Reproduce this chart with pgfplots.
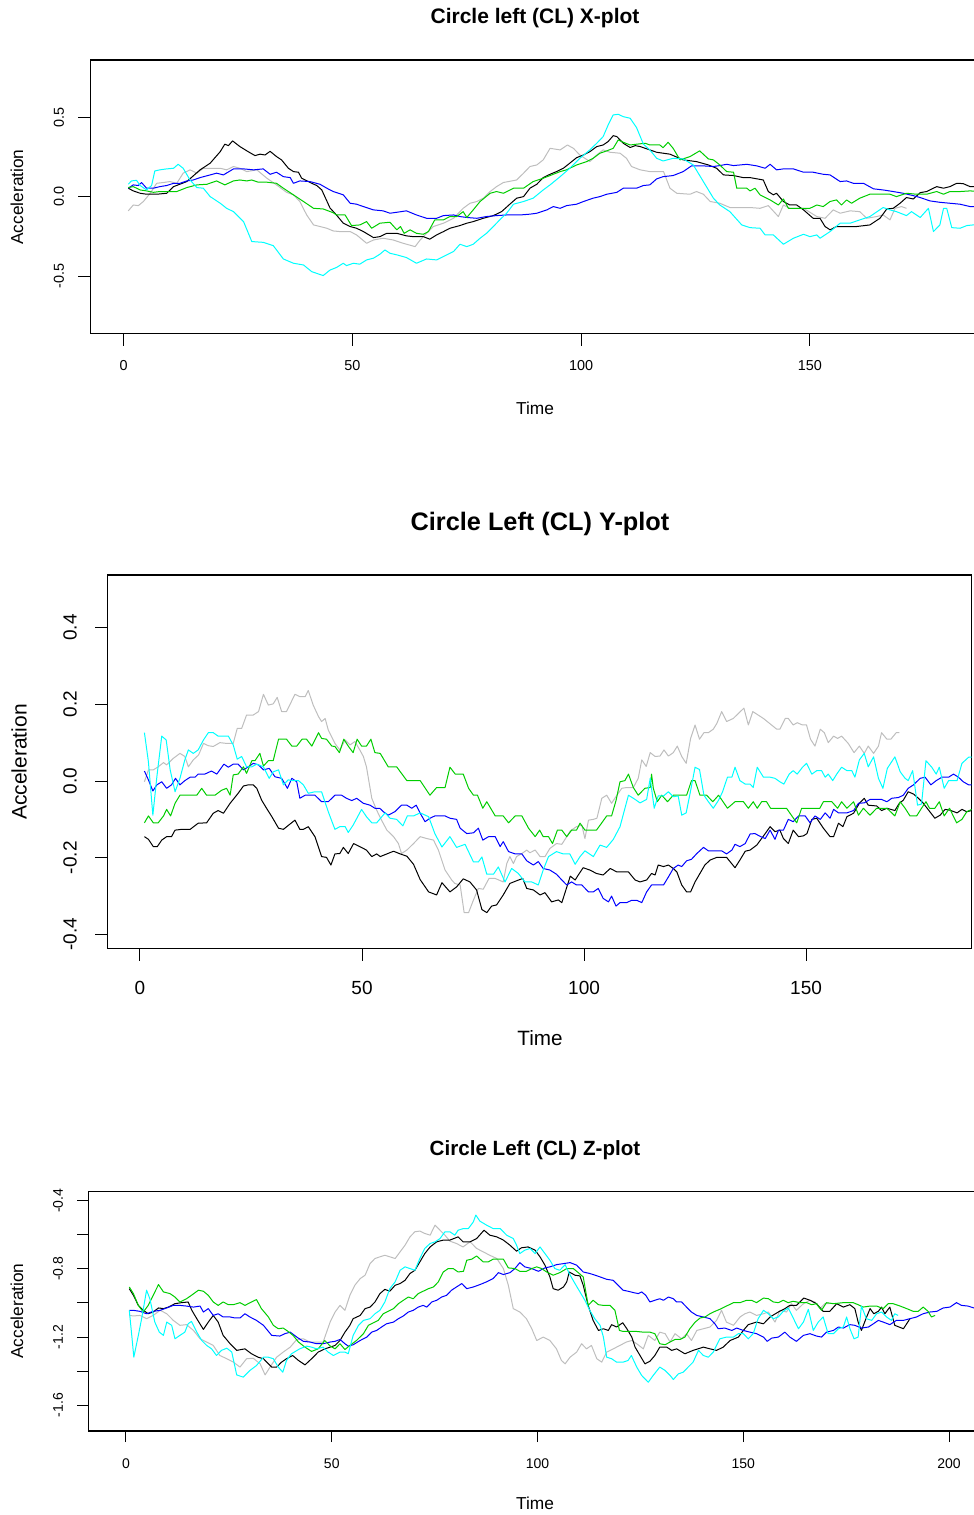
\documentclass[border=0pt]{standalone}
\usepackage{fontspec}
\setmainfont{Liberation Sans}
\usepackage{pgfplots}
\pgfplotsset{compat=1.18}
\definecolor{rgray}{HTML}{BEBEBE}
\definecolor{rgreen}{HTML}{00CD00}
\definecolor{rblue}{HTML}{0000FF}
\definecolor{rcyan}{HTML}{00FFFF}
\pgfplotsset{
  rplot/.style={
    scale only axis,
    axis line style={line width=0.6pt},
    tick align=outside,
    xtick pos=left, ytick pos=left,
    tick style={black, line width=0.5pt},
    yticklabel style={rotate=90, anchor=south},
    every axis plot/.append style={line width=0.5pt, line join=round, mark=none},
  }
}
\begin{document}
\begin{tikzpicture}
\path[use as bounding box] (0,0) rectangle (487pt,757.5pt);
\clip (0,0) rectangle (487pt,757.5pt);

% ---------------- Top: X-plot ----------------
\begin{axis}[rplot,
  at={(45.15pt,590.65pt)}, anchor=south west,
  width=449.85pt, height=136.85pt,
  xmin=-7.3, xmax=189.36, ymin=-0.864, ymax=0.865,
  major tick length=6pt,
  xtick={0,50,100,150}, xticklabels={0,50,100,150},
  ytick={-0.5,0,0.5}, yticklabels={-0.5,0.0,0.5},
  ticklabel style={font=\fontsize{7.2}{8}\selectfont, inner sep=0pt},
  xticklabel shift=7pt, yticklabel shift=7pt,
]
\addplot[rgray] coordinates {(1.0,-0.088)(2.1,-0.051)(3.2,-0.055)(4.3,-0.029)(5.8,0.023)(7.2,0.086)(8.7,0.091)(10.1,0.097)(11.6,0.086)(13.0,0.150)(14.5,0.171)(16.0,0.150)(17.4,0.181)(18.9,0.181)(21.1,0.181)(22.5,0.171)(24.0,0.192)(25.4,0.181)(26.9,0.160)(29.1,0.171)(31.3,0.118)(33.4,0.076)(35.6,0.029)(37.1,0.013)(38.5,-0.029)(40.0,-0.114)(41.5,-0.177)(42.9,-0.187)(44.4,-0.198)(45.8,-0.215)(47.3,-0.219)(49.5,-0.219)(50.9,-0.240)(53.1,-0.293)(54.6,-0.272)(56.7,-0.261)(58.9,-0.272)(61.1,-0.293)(63.7,-0.314)(64.8,-0.272)(66.2,-0.230)(67.7,-0.187)(69.9,-0.166)(72.1,-0.135)(74.2,-0.072)(75.7,-0.040)(77.2,-0.029)(78.6,-0.008)(80.1,0.034)(81.5,0.065)(83.0,0.091)(85.9,0.107)(87.4,0.150)(88.8,0.192)(90.3,0.202)(91.7,0.234)(93.2,0.307)(95.4,0.297)(97.0,0.328)(98.3,0.307)(99.7,0.265)(101.9,0.223)(103.4,0.265)(104.8,0.297)(106.3,0.282)(108.5,0.276)(109.9,0.244)(111.0,0.192)(112.9,0.171)(115.0,0.160)(116.5,0.160)(118.0,0.160)(119.4,0.055)(120.9,0.023)(123.8,0.017)(125.2,0.034)(126.7,0.017)(128.2,-0.029)(130.3,-0.040)(132.5,-0.067)(134.7,-0.067)(136.9,-0.067)(139.1,-0.072)(140.9,-0.055)(143.1,-0.124)(144.2,-0.051)(145.6,-0.072)(148.6,-0.072)(151.5,-0.124)(153.3,-0.135)(155.1,-0.082)(156.6,-0.103)(158.8,-0.088)(160.9,-0.093)(162.4,-0.135)(164.6,-0.124)(166.0,-0.114)(167.5,-0.145)(168.6,-0.072)(170.0,-0.061)(171.1,-0.072)};
\addplot[black] coordinates {(1.0,0.055)(2.1,0.038)(3.6,0.023)(5.0,0.017)(7.2,0.017)(9.4,0.023)(10.9,0.065)(13.8,0.097)(16.7,0.171)(18.9,0.213)(21.1,0.286)(22.1,0.333)(22.9,0.324)(23.8,0.354)(25.4,0.318)(27.2,0.286)(28.7,0.261)(29.8,0.270)(30.9,0.265)(32.0,0.288)(33.4,0.255)(34.5,0.234)(36.0,0.181)(37.1,0.160)(38.2,0.156)(38.9,0.118)(41.1,0.086)(42.2,0.072)(43.3,0.044)(45.1,-0.070)(46.5,-0.114)(48.0,-0.166)(49.5,-0.187)(50.9,-0.198)(52.4,-0.219)(54.6,-0.257)(56.0,-0.251)(57.5,-0.230)(59.7,-0.230)(61.8,-0.246)(63.3,-0.251)(65.5,-0.251)(66.9,-0.267)(68.4,-0.240)(69.9,-0.219)(71.3,-0.198)(73.5,-0.181)(75.0,-0.166)(76.4,-0.156)(78.6,-0.135)(80.8,-0.118)(82.6,-0.093)(84.4,-0.046)(85.9,-0.008)(87.4,0.002)(88.8,0.055)(90.3,0.080)(91.7,0.122)(93.2,0.143)(94.6,0.160)(96.1,0.181)(97.5,0.213)(99.0,0.248)(100.5,0.265)(101.9,0.286)(103.4,0.318)(104.8,0.328)(105.9,0.350)(107.0,0.387)(107.8,0.381)(109.2,0.339)(110.7,0.312)(111.8,0.324)(112.9,0.318)(115.0,0.297)(116.5,0.282)(119.4,0.270)(122.3,0.234)(125.2,0.223)(127.8,0.202)(129.6,0.181)(131.1,0.139)(133.3,0.135)(135.4,0.122)(136.9,0.122)(139.8,0.107)(140.9,0.034)(142.0,0.013)(142.7,0.023)(144.2,-0.029)(145.6,-0.051)(147.1,-0.051)(148.6,-0.082)(150.7,-0.135)(152.2,-0.135)(153.3,-0.187)(154.4,-0.208)(155.8,-0.187)(158.8,-0.187)(160.2,-0.187)(163.1,-0.177)(165.3,-0.135)(166.8,-0.076)(168.2,-0.072)(169.7,-0.040)(171.1,-0.004)(172.6,-0.013)(174.1,0.027)(175.5,0.034)(177.7,0.065)(179.2,0.055)(180.6,0.065)(182.1,0.086)(183.5,0.084)(185.0,0.065)(187.0,0.065)};
\addplot[rblue] coordinates {(1.0,0.055)(2.1,0.076)(3.2,0.072)(3.9,0.091)(5.0,0.055)(6.5,0.055)(7.9,0.065)(9.4,0.072)(10.9,0.086)(12.3,0.086)(13.8,0.101)(15.2,0.107)(16.7,0.122)(18.9,0.139)(20.3,0.150)(21.8,0.139)(24.0,0.177)(26.2,0.177)(28.4,0.171)(30.5,0.177)(32.0,0.143)(33.4,0.156)(34.9,0.128)(36.4,0.122)(37.1,0.086)(38.5,0.101)(40.7,0.097)(42.9,0.080)(44.4,0.055)(45.8,0.034)(47.3,0.020)(48.0,0.013)(49.5,-0.040)(50.9,-0.046)(52.4,-0.061)(54.6,-0.082)(56.7,-0.088)(58.2,-0.103)(59.7,-0.097)(61.8,-0.088)(64.0,-0.114)(66.2,-0.135)(68.4,-0.135)(69.9,-0.118)(72.1,-0.114)(73.5,-0.124)(75.0,-0.130)(77.2,-0.135)(79.3,-0.124)(81.5,-0.118)(83.7,-0.114)(86.6,-0.114)(88.8,-0.109)(90.3,-0.103)(92.5,-0.082)(93.9,-0.061)(95.4,-0.072)(96.8,-0.055)(99.0,-0.046)(100.5,-0.029)(102.6,-0.008)(104.1,0.002)(105.6,0.017)(107.8,0.029)(109.2,0.055)(112.1,0.055)(113.6,0.072)(115.0,0.076)(116.5,0.114)(117.9,0.128)(120.1,0.135)(122.3,0.160)(124.1,0.196)(126.7,0.196)(128.9,0.192)(130.3,0.198)(131.8,0.206)(133.3,0.198)(136.2,0.206)(138.4,0.196)(140.2,0.181)(141.3,0.206)(142.7,0.171)(144.2,0.177)(146.4,0.177)(148.6,0.156)(150.7,0.156)(152.9,0.143)(154.4,0.139)(156.6,0.097)(158.0,0.101)(159.5,0.086)(161.7,0.086)(163.9,0.051)(166.0,0.044)(168.2,0.034)(170.4,0.023)(172.6,0.008)(174.1,-0.004)(176.2,-0.025)(178.4,-0.034)(180.6,-0.040)(182.8,-0.046)(185.0,-0.061)(187.0,-0.061)};
\addplot[rgreen] coordinates {(1.0,0.059)(2.1,0.065)(3.6,0.044)(5.0,0.038)(6.5,0.029)(7.9,0.034)(9.4,0.034)(11.6,0.034)(13.8,0.059)(16.0,0.076)(18.2,0.080)(20.3,0.101)(22.1,0.076)(24.0,0.101)(25.4,0.107)(26.9,0.101)(28.0,0.107)(29.4,0.093)(31.3,0.093)(33.4,0.086)(34.9,0.055)(37.1,0.013)(39.3,-0.029)(41.5,-0.072)(43.6,-0.076)(45.8,-0.100)(46.5,-0.114)(48.4,-0.114)(49.8,-0.181)(51.6,-0.177)(53.1,-0.156)(54.2,-0.198)(56.0,-0.166)(58.2,-0.160)(59.7,-0.208)(60.5,-0.187)(61.3,-0.230)(62.6,-0.208)(64.0,-0.230)(65.5,-0.236)(66.6,-0.219)(68.0,-0.145)(69.9,-0.145)(71.3,-0.124)(72.8,-0.124)(74.2,-0.093)(75.0,-0.130)(76.4,-0.082)(77.9,-0.029)(80.1,0.023)(81.5,0.034)(83.0,0.023)(85.2,0.055)(87.4,0.055)(89.5,0.097)(91.7,0.118)(93.2,0.135)(95.4,0.160)(96.8,0.171)(99.0,0.202)(101.2,0.223)(102.6,0.244)(104.1,0.276)(105.6,0.291)(107.0,0.307)(108.1,0.360)(109.2,0.345)(110.7,0.328)(112.1,0.333)(114.0,0.339)(115.0,0.328)(117.2,0.328)(117.9,0.311)(119.0,0.345)(120.1,0.307)(121.6,0.234)(123.8,0.255)(125.9,0.291)(127.8,0.240)(128.9,0.234)(130.3,0.202)(131.8,0.160)(133.3,0.156)(134.0,0.055)(136.2,0.055)(136.9,0.038)(138.0,0.055)(139.1,0.013)(141.3,-0.019)(143.1,-0.051)(144.2,-0.013)(145.3,-0.072)(147.8,-0.072)(150.0,-0.072)(151.5,-0.051)(152.9,-0.061)(154.4,-0.029)(155.8,-0.019)(156.9,-0.051)(158.0,-0.019)(159.1,-0.040)(160.9,-0.008)(163.1,0.017)(165.3,0.017)(167.5,0.017)(168.9,0.002)(171.1,0.023)(173.3,0.017)(175.5,0.017)(177.7,0.034)(179.2,0.017)(180.6,0.034)(182.8,0.034)(185.0,0.038)(187.0,0.034)};
\addplot[rcyan] coordinates {(1.0,0.080)(1.7,0.101)(2.8,0.105)(3.6,0.072)(5.0,0.044)(6.1,0.072)(6.8,0.164)(7.9,0.171)(9.4,0.177)(10.9,0.181)(11.9,0.206)(13.0,0.181)(14.5,0.107)(16.0,0.059)(17.4,0.055)(18.9,0.002)(21.1,-0.040)(22.5,-0.072)(24.0,-0.093)(26.2,-0.156)(28.0,-0.282)(30.5,-0.287)(32.7,-0.308)(34.9,-0.392)(37.1,-0.419)(39.3,-0.430)(41.1,-0.472)(43.6,-0.497)(45.1,-0.462)(46.5,-0.446)(48.0,-0.419)(48.7,-0.434)(50.2,-0.419)(51.6,-0.425)(53.1,-0.398)(54.6,-0.387)(56.0,-0.362)(57.1,-0.335)(58.2,-0.356)(59.7,-0.366)(61.8,-0.383)(64.0,-0.419)(66.2,-0.392)(68.4,-0.398)(70.6,-0.366)(72.1,-0.345)(73.5,-0.299)(75.0,-0.314)(76.4,-0.299)(77.9,-0.261)(79.3,-0.230)(80.8,-0.187)(82.2,-0.145)(83.7,-0.103)(85.2,-0.046)(87.4,-0.029)(89.5,-0.008)(91.7,0.044)(93.2,0.076)(95.4,0.128)(97.5,0.181)(99.7,0.244)(101.9,0.297)(103.4,0.339)(104.8,0.381)(105.9,0.455)(107.0,0.518)(108.1,0.522)(109.2,0.507)(110.7,0.497)(112.1,0.438)(113.6,0.333)(115.0,0.297)(116.5,0.244)(117.9,0.227)(120.1,0.244)(122.3,0.240)(124.5,0.202)(126.7,0.097)(128.9,-0.008)(130.3,-0.051)(132.5,-0.093)(135.1,-0.177)(136.9,-0.194)(139.1,-0.198)(140.2,-0.240)(142.0,-0.240)(144.2,-0.299)(146.4,-0.261)(148.6,-0.236)(150.0,-0.251)(151.5,-0.240)(152.2,-0.261)(154.4,-0.219)(156.6,-0.166)(158.8,-0.166)(160.9,-0.145)(163.1,-0.124)(166.0,-0.067)(167.5,-0.082)(168.9,-0.093)(171.1,-0.118)(172.2,-0.093)(174.1,-0.130)(175.9,-0.072)(177.0,-0.219)(178.4,-0.177)(179.2,-0.072)(179.9,-0.072)(181.0,-0.194)(182.8,-0.198)(184.3,-0.181)(187.0,-0.173)};
\end{axis}
\node[font=\bfseries\fontsize{10.5}{12}\selectfont] at (267.5pt,748.65pt) {Circle left (CL) X-plot};
\node[font=\fontsize{8.65}{10}\selectfont] at (267.5pt,553.5pt) {Time};
\node[font=\fontsize{8.65}{10}\selectfont, rotate=90] at (8.5pt,659pt) {Acceleration};

% ---------------- Middle: Y-plot ----------------
\begin{axis}[rplot,
  at={(53.85pt,283.35pt)}, anchor=south west,
  width=432pt, height=186.65pt,
  xmin=-7.27, xmax=187.3, ymin=-0.436, ymax=0.537,
  major tick length=6.3pt,
  xtick={0,50,100,150}, xticklabels={0,50,100,150},
  ytick={-0.4,-0.2,0,0.2,0.4}, yticklabels={-0.4,-0.2,0.0,0.2,0.4},
  ticklabel style={font=\fontsize{9.5}{11}\selectfont, inner sep=0pt},
  xticklabel shift=10.2pt, yticklabel shift=9pt,
]
\addplot[rgray] coordinates {(1.0,-0.002)(1.9,0.029)(3.0,0.029)(4.1,0.037)(5.3,0.048)(6.0,0.042)(7.5,0.059)(9.0,0.072)(10.1,0.064)(10.9,0.037)(12.0,0.055)(13.2,0.068)(14.3,0.098)(15.4,0.092)(16.5,0.090)(18.0,0.100)(19.5,0.098)(21.0,0.098)(21.9,0.137)(22.9,0.137)(24.0,0.172)(25.5,0.172)(26.7,0.181)(27.8,0.226)(28.9,0.198)(30.0,0.201)(30.9,0.218)(31.9,0.181)(33.0,0.181)(34.9,0.226)(36.0,0.220)(37.2,0.220)(37.9,0.236)(39.0,0.198)(40.2,0.168)(40.9,0.155)(41.7,0.163)(42.4,0.133)(43.9,0.098)(45.0,0.081)(46.2,0.107)(47.3,0.094)(48.4,0.103)(49.5,0.081)(50.3,0.064)(51.0,0.037)(52.2,-0.045)(53.3,-0.076)(54.4,-0.102)(55.6,-0.128)(57.1,-0.145)(58.2,-0.163)(58.9,-0.189)(60.1,-0.180)(61.6,-0.163)(63.1,-0.145)(64.6,-0.150)(66.1,-0.154)(67.2,-0.180)(68.7,-0.232)(70.2,-0.258)(70.9,-0.267)(72.1,-0.271)(73.0,-0.343)(74.0,-0.343)(75.1,-0.310)(76.2,-0.280)(77.3,-0.282)(78.6,-0.254)(80.0,-0.254)(81.8,-0.263)(82.6,-0.215)(83.3,-0.197)(84.1,-0.215)(84.8,-0.197)(86.0,-0.189)(87.1,-0.180)(87.8,-0.187)(89.0,-0.180)(90.1,-0.197)(91.2,-0.197)(92.3,-0.176)(93.8,-0.163)(95.0,-0.165)(96.1,-0.145)(96.9,-0.130)(98.3,-0.119)(99.5,-0.115)(100.2,-0.150)(101.0,-0.102)(102.1,-0.100)(102.9,-0.097)(104.0,-0.045)(105.1,-0.037)(106.2,-0.058)(107.4,-0.037)(108.5,-0.019)(109.6,-0.017)(111.1,-0.017)(112.2,0.007)(113.0,0.055)(114.0,0.038)(114.9,0.074)(116.0,0.064)(117.1,0.065)(118.0,0.081)(119.0,0.065)(120.1,0.074)(121.0,0.091)(122.0,0.064)(123.0,0.046)(124.0,0.111)(125.0,0.146)(126.0,0.109)(127.0,0.126)(128.0,0.126)(129.1,0.135)(129.9,0.150)(131.0,0.181)(132.1,0.155)(133.6,0.163)(136.0,0.190)(137.0,0.146)(138.0,0.181)(140.4,0.163)(143.4,0.135)(144.1,0.135)(145.3,0.163)(146.0,0.163)(147.1,0.146)(148.0,0.152)(149.2,0.146)(150.1,0.146)(151.0,0.109)(152.0,0.091)(153.2,0.135)(154.1,0.126)(155.0,0.100)(156.2,0.117)(157.1,0.111)(158.0,0.117)(159.5,0.098)(160.8,0.074)(162.0,0.091)(163.1,0.072)(164.0,0.091)(165.2,0.072)(166.3,0.091)(167.0,0.126)(168.2,0.109)(169.1,0.109)(170.3,0.126)(171.0,0.126)};
\addplot[black] coordinates {(1.0,-0.145)(1.9,-0.152)(3.0,-0.171)(3.9,-0.171)(4.9,-0.154)(6.0,-0.145)(7.1,-0.145)(7.9,-0.128)(9.4,-0.126)(11.3,-0.126)(13.1,-0.110)(15.0,-0.109)(16.5,-0.084)(17.6,-0.077)(18.8,-0.084)(20.3,-0.058)(21.0,-0.048)(22.1,-0.032)(23.3,-0.013)(24.4,-0.010)(25.5,-0.010)(26.3,-0.019)(27.4,-0.050)(28.5,-0.071)(29.7,-0.093)(31.2,-0.123)(32.3,-0.126)(33.8,-0.112)(34.9,-0.102)(36.0,-0.126)(36.8,-0.126)(37.9,-0.119)(39.4,-0.145)(40.9,-0.197)(42.0,-0.199)(43.0,-0.219)(43.9,-0.190)(45.0,-0.189)(45.8,-0.173)(46.9,-0.189)(48.1,-0.163)(49.5,-0.171)(51.0,-0.180)(52.2,-0.197)(53.3,-0.190)(54.1,-0.197)(55.6,-0.190)(57.1,-0.183)(58.6,-0.190)(60.1,-0.196)(61.6,-0.217)(63.1,-0.257)(65.0,-0.289)(66.8,-0.297)(68.0,-0.265)(69.8,-0.289)(71.3,-0.276)(72.8,-0.255)(74.3,-0.263)(75.8,-0.284)(77.0,-0.335)(78.1,-0.343)(79.2,-0.326)(80.3,-0.323)(81.8,-0.297)(83.3,-0.267)(84.8,-0.260)(86.2,-0.254)(87.1,-0.280)(88.6,-0.284)(90.1,-0.297)(91.2,-0.291)(92.7,-0.315)(94.2,-0.310)(95.0,-0.317)(96.9,-0.248)(98.0,-0.258)(98.7,-0.245)(99.8,-0.226)(101.3,-0.232)(102.8,-0.241)(104.3,-0.245)(105.9,-0.228)(107.4,-0.237)(110.0,-0.237)(111.5,-0.258)(112.6,-0.263)(114.1,-0.258)(115.2,-0.241)(116.0,-0.245)(116.7,-0.219)(117.9,-0.223)(119.0,-0.219)(120.1,-0.228)(120.9,-0.237)(122.0,-0.271)(123.1,-0.289)(124.0,-0.289)(125.0,-0.263)(126.1,-0.241)(127.2,-0.219)(128.4,-0.206)(129.9,-0.199)(132.1,-0.199)(134.0,-0.226)(135.1,-0.206)(136.3,-0.183)(137.4,-0.180)(138.9,-0.167)(140.8,-0.137)(141.9,-0.119)(143.0,-0.132)(144.1,-0.128)(144.9,-0.150)(146.0,-0.163)(147.1,-0.128)(148.3,-0.145)(149.4,-0.143)(150.2,-0.137)(151.3,-0.100)(152.4,-0.097)(153.9,-0.123)(155.4,-0.145)(156.2,-0.145)(157.3,-0.110)(158.3,-0.119)(159.2,-0.093)(160.7,-0.084)(162.0,-0.058)(163.1,-0.045)(164.0,-0.063)(165.9,-0.065)(167.0,-0.077)(168.2,-0.071)(170.0,-0.077)(171.0,-0.058)(171.9,-0.050)(173.0,-0.028)(174.2,-0.034)(175.3,-0.045)(176.4,-0.058)(177.6,-0.076)(179.0,-0.097)(180.2,-0.089)(181.3,-0.074)(182.4,-0.076)(184.0,-0.083)(185.1,-0.074)(186.2,-0.080)(187.3,-0.077)};
\addplot[rblue] coordinates {(1.0,0.026)(1.9,0.003)(2.9,-0.026)(3.8,-0.010)(4.9,-0.002)(6.0,-0.019)(7.1,-0.010)(8.0,0.007)(9.0,-0.010)(10.1,0.001)(11.3,0.010)(12.4,0.010)(13.1,0.018)(14.6,0.018)(16.1,0.026)(17.3,0.018)(18.9,0.044)(19.9,0.036)(21.0,0.044)(22.1,0.044)(23.3,0.029)(24.4,0.037)(25.5,0.046)(26.7,0.042)(27.8,0.029)(29.1,0.033)(30.4,0.011)(31.9,0.007)(33.2,-0.019)(34.2,0.007)(35.3,-0.002)(36.0,-0.045)(37.2,-0.037)(39.4,-0.037)(40.9,-0.054)(42.4,-0.054)(43.9,-0.037)(45.4,-0.037)(46.5,-0.045)(47.7,-0.051)(48.8,-0.045)(50.3,-0.058)(51.8,-0.063)(52.9,-0.071)(54.0,-0.071)(54.8,-0.080)(55.9,-0.089)(57.4,-0.080)(58.9,-0.063)(60.1,-0.063)(61.2,-0.071)(62.2,-0.063)(63.1,-0.084)(64.2,-0.106)(65.3,-0.097)(66.4,-0.091)(68.7,-0.091)(69.8,-0.097)(71.3,-0.100)(72.1,-0.123)(73.6,-0.137)(75.1,-0.135)(76.2,-0.123)(77.2,-0.154)(78.5,-0.145)(80.0,-0.145)(81.1,-0.171)(81.8,-0.158)(83.0,-0.184)(84.5,-0.190)(86.0,-0.190)(87.1,-0.208)(88.6,-0.219)(89.7,-0.210)(90.8,-0.228)(92.3,-0.232)(93.8,-0.243)(95.0,-0.258)(96.1,-0.271)(97.2,-0.263)(98.3,-0.271)(99.5,-0.271)(101.0,-0.289)(102.1,-0.289)(103.2,-0.280)(104.3,-0.306)(105.5,-0.315)(106.2,-0.300)(107.2,-0.326)(108.1,-0.317)(109.6,-0.317)(110.7,-0.311)(111.9,-0.311)(113.0,-0.317)(114.1,-0.289)(115.2,-0.271)(116.4,-0.271)(117.9,-0.271)(119.0,-0.250)(120.1,-0.228)(121.2,-0.219)(122.0,-0.223)(123.1,-0.208)(124.2,-0.204)(125.4,-0.189)(126.9,-0.173)(128.0,-0.182)(129.9,-0.182)(131.0,-0.182)(132.1,-0.190)(133.3,-0.180)(134.0,-0.165)(135.1,-0.171)(136.3,-0.163)(137.4,-0.138)(138.5,-0.137)(139.6,-0.144)(140.8,-0.150)(141.9,-0.128)(143.0,-0.152)(143.8,-0.128)(144.9,-0.128)(146.0,-0.100)(147.1,-0.106)(148.3,-0.091)(149.8,-0.091)(150.9,-0.109)(152.0,-0.091)(153.2,-0.100)(154.3,-0.083)(155.4,-0.097)(156.2,-0.074)(157.3,-0.083)(159.2,-0.083)(160.7,-0.077)(161.8,-0.058)(163.1,-0.057)(164.4,-0.048)(165.9,-0.048)(167.0,-0.048)(168.2,-0.054)(169.3,-0.045)(170.8,-0.043)(171.9,-0.037)(173.0,-0.019)(174.2,-0.010)(175.7,0.007)(176.8,0.010)(178.1,-0.010)(179.3,0.001)(180.6,0.010)(182.1,0.010)(183.2,0.018)(184.3,0.010)(185.4,-0.002)(186.6,-0.010)(187.3,-0.010)};
\addplot[rgreen] coordinates {(1.0,-0.109)(1.9,-0.091)(3.0,-0.109)(4.1,-0.109)(5.3,-0.091)(6.0,-0.074)(6.9,-0.091)(7.9,-0.058)(9.0,-0.037)(10.9,-0.037)(12.8,-0.037)(13.9,-0.019)(15.0,-0.037)(16.9,-0.037)(18.4,-0.024)(19.5,-0.019)(20.3,-0.037)(21.0,0.016)(22.1,0.018)(23.3,0.037)(24.0,0.020)(25.2,0.053)(25.9,0.053)(27.0,0.072)(27.8,0.039)(28.9,0.053)(30.0,0.053)(31.2,0.109)(33.0,0.109)(34.2,0.091)(35.3,0.091)(36.5,0.109)(37.5,0.109)(38.7,0.091)(40.2,0.126)(40.9,0.111)(42.0,0.109)(43.2,0.091)(43.9,0.090)(44.9,0.074)(45.9,0.109)(46.9,0.091)(48.0,0.074)(48.9,0.109)(49.9,0.091)(51.0,0.091)(52.0,0.109)(52.9,0.074)(54.1,0.072)(55.9,0.037)(57.8,0.037)(60.1,0.001)(63.1,0.001)(65.3,-0.037)(66.8,-0.017)(68.7,-0.017)(69.8,0.036)(71.0,0.018)(72.8,0.018)(74.0,-0.019)(75.1,-0.037)(76.0,-0.037)(77.2,-0.071)(78.1,-0.054)(80.0,-0.091)(81.8,-0.091)(83.0,-0.109)(84.5,-0.091)(86.0,-0.091)(87.5,-0.123)(89.0,-0.145)(90.0,-0.128)(90.8,-0.145)(92.0,-0.145)(92.9,-0.163)(94.0,-0.128)(95.0,-0.128)(96.1,-0.145)(97.2,-0.128)(98.3,-0.128)(99.1,-0.110)(100.2,-0.128)(102.8,-0.128)(104.0,-0.109)(105.1,-0.091)(106.2,-0.091)(107.2,-0.051)(108.1,-0.002)(109.2,0.001)(110.0,0.018)(111.1,-0.017)(112.2,-0.037)(113.7,-0.019)(114.9,-0.017)(115.2,0.018)(115.6,-0.019)(116.5,-0.054)(117.5,-0.037)(118.8,-0.054)(120.1,-0.037)(121.6,-0.037)(123.1,-0.037)(124.2,0.001)(125.0,0.001)(126.1,-0.037)(127.6,-0.037)(129.0,-0.054)(130.3,-0.037)(132.3,-0.071)(134.0,-0.054)(135.9,-0.054)(137.0,-0.071)(138.1,-0.054)(139.0,-0.071)(140.0,-0.054)(141.1,-0.054)(142.0,-0.071)(145.6,-0.071)(146.8,-0.091)(147.9,-0.109)(149.0,-0.071)(150.9,-0.071)(153.1,-0.071)(153.9,-0.054)(155.8,-0.054)(157.1,-0.071)(158.0,-0.054)(159.2,-0.071)(160.7,-0.054)(161.8,-0.089)(162.9,-0.071)(164.4,-0.089)(165.9,-0.071)(168.2,-0.071)(170.0,-0.091)(171.2,-0.054)(172.3,-0.071)(173.4,-0.091)(174.9,-0.091)(176.0,-0.071)(177.0,-0.054)(177.8,-0.071)(179.0,-0.071)(180.0,-0.054)(181.1,-0.091)(182.3,-0.071)(183.9,-0.109)(185.1,-0.100)(186.2,-0.080)(187.3,-0.074)};
\addplot[rcyan] coordinates {(1.0,0.126)(1.9,0.050)(2.9,-0.089)(3.8,0.011)(4.9,0.117)(5.9,0.107)(6.8,0.029)(7.9,-0.028)(9.0,0.007)(10.1,0.055)(10.9,0.081)(12.0,0.072)(13.1,0.081)(14.3,0.107)(15.4,0.126)(16.5,0.126)(17.6,0.117)(18.8,0.117)(19.9,0.117)(21.0,0.094)(21.9,0.057)(22.9,0.064)(24.0,0.037)(25.2,0.037)(26.3,0.044)(27.8,0.037)(29.1,0.007)(30.0,0.024)(31.2,0.029)(32.3,-0.010)(33.4,0.003)(34.5,0.001)(35.7,0.001)(36.8,-0.010)(37.9,-0.032)(39.4,-0.028)(40.9,-0.028)(42.4,-0.080)(43.9,-0.126)(45.0,-0.119)(46.2,-0.119)(46.9,-0.134)(48.0,-0.115)(49.9,-0.074)(51.0,-0.093)(52.2,-0.109)(53.3,-0.109)(55.2,-0.083)(56.3,-0.097)(57.8,-0.100)(59.2,-0.117)(60.2,-0.091)(61.6,-0.091)(63.1,-0.083)(65.0,-0.093)(66.4,-0.137)(68.0,-0.172)(69.8,-0.145)(71.3,-0.173)(73.2,-0.165)(75.1,-0.211)(76.2,-0.211)(77.0,-0.198)(78.1,-0.243)(79.6,-0.243)(80.7,-0.224)(82.2,-0.263)(83.7,-0.228)(85.2,-0.241)(86.7,-0.263)(88.2,-0.263)(89.7,-0.271)(90.8,-0.232)(92.0,-0.197)(93.8,-0.184)(95.3,-0.190)(96.8,-0.190)(98.0,-0.217)(99.1,-0.197)(100.2,-0.182)(102.1,-0.197)(103.6,-0.167)(105.1,-0.173)(106.6,-0.152)(108.1,-0.119)(110.0,-0.037)(111.5,-0.048)(112.6,-0.057)(114.1,-0.048)(114.9,0.007)(115.8,-0.071)(116.7,-0.039)(117.9,-0.039)(119.0,-0.028)(120.1,-0.041)(121.2,-0.039)(122.0,-0.089)(123.0,-0.083)(124.0,-0.025)(125.0,0.036)(126.0,0.030)(127.0,-0.037)(128.0,-0.054)(129.1,-0.071)(130.3,-0.050)(131.2,-0.028)(132.3,0.010)(133.3,0.010)(134.0,0.036)(135.1,0.001)(136.3,-0.008)(137.4,-0.008)(138.1,-0.017)(139.0,0.036)(140.4,0.010)(141.9,0.010)(143.0,0.007)(144.1,-0.002)(145.0,-0.008)(146.2,0.018)(147.1,0.027)(148.0,0.018)(149.2,0.036)(150.1,0.046)(151.3,0.018)(152.4,0.027)(153.5,0.027)(154.3,0.010)(155.0,0.018)(156.0,0.001)(156.9,0.018)(158.0,0.036)(159.2,0.027)(160.3,0.027)(161.0,0.010)(162.0,0.055)(163.1,0.072)(164.0,0.037)(165.2,0.063)(166.3,0.007)(167.3,-0.019)(168.3,0.033)(170.0,0.063)(171.2,0.024)(172.3,0.007)(173.0,0.001)(174.0,0.027)(175.1,-0.063)(176.0,-0.060)(177.0,0.053)(178.3,0.036)(179.3,0.018)(180.0,0.036)(181.1,-0.019)(182.1,0.001)(184.0,0.001)(185.1,0.046)(186.6,0.062)(187.3,0.062)};
\end{axis}
\node[font=\bfseries\fontsize{12.65}{14}\selectfont] at (270pt,495.5pt) {Circle Left (CL) Y-plot};
\node[font=\fontsize{10.35}{12}\selectfont] at (270pt,238.5pt) {Time};
\node[font=\fontsize{10.5}{12}\selectfont, rotate=90] at (9.5pt,376.5pt) {Acceleration};

% ---------------- Bottom: Z-plot ----------------
\begin{axis}[rplot,
  at={(44.15pt,42pt)}, anchor=south west,
  width=450.85pt, height=119.65pt,
  xmin=-9.16, xmax=209.94, ymin=-1.751, ymax=-0.347,
  major tick length=5.5pt,
  xtick={0,50,100,150,200}, xticklabels={0,50,100,150,200},
  ytick={-1.6,-1.4,-1.2,-1.0,-0.8,-0.6,-0.4}, yticklabels={-1.6,,-1.2,,-0.8,,-0.4},
  ticklabel style={font=\fontsize{7.0}{8}\selectfont, inner sep=0pt},
  xticklabel shift=8pt, yticklabel shift=7pt,
]
\addplot[rgray] coordinates {(0.8,-1.073)(1.8,-1.076)(3.4,-1.073)(5.0,-1.092)(6.6,-1.073)(8.3,-1.043)(9.9,-1.063)(11.5,-1.102)(13.1,-1.131)(14.7,-1.127)(16.4,-1.161)(18.0,-1.210)(19.6,-1.229)(21.2,-1.249)(22.8,-1.308)(24.5,-1.327)(26.1,-1.347)(27.7,-1.376)(29.3,-1.327)(30.9,-1.324)(32.6,-1.357)(33.8,-1.422)(35.0,-1.376)(36.6,-1.318)(38.2,-1.288)(39.9,-1.259)(41.5,-1.214)(43.1,-1.210)(44.7,-1.229)(46.3,-1.229)(47.9,-1.229)(49.6,-1.112)(50.8,-1.053)(52.0,-1.014)(53.2,-1.043)(54.4,-0.955)(55.6,-0.896)(56.9,-0.857)(58.1,-0.837)(59.3,-0.769)(60.5,-0.739)(61.7,-0.729)(62.9,-0.720)(64.1,-0.729)(65.4,-0.739)(66.6,-0.700)(67.8,-0.661)(69.0,-0.612)(70.2,-0.582)(71.4,-0.578)(72.6,-0.592)(73.9,-0.602)(75.1,-0.543)(76.3,-0.573)(77.5,-0.602)(78.7,-0.637)(80.3,-0.651)(81.9,-0.671)(83.6,-0.641)(85.2,-0.680)(86.8,-0.700)(88.4,-0.720)(90.1,-0.739)(91.7,-0.798)(92.9,-0.896)(94.1,-1.033)(95.7,-1.053)(97.3,-1.092)(98.6,-1.151)(99.8,-1.220)(101.4,-1.200)(103.0,-1.220)(104.6,-1.269)(105.8,-1.337)(106.7,-1.357)(107.9,-1.318)(109.5,-1.288)(110.7,-1.239)(111.9,-1.269)(113.1,-1.249)(114.4,-1.327)(115.6,-1.347)(116.8,-1.288)(118.4,-1.269)(120.0,-1.249)(121.6,-1.229)(122.9,-1.220)(124.1,-1.239)(125.7,-1.269)(126.9,-1.190)(128.5,-1.220)(129.7,-1.171)(131.0,-1.180)(132.2,-1.229)(133.4,-1.180)(135.0,-1.210)(136.2,-1.180)(137.4,-1.220)(138.7,-1.161)(140.3,-1.151)(141.9,-1.141)(143.5,-1.102)(144.7,-1.043)(145.9,-1.112)(147.6,-1.131)(149.2,-1.082)(150.4,-1.063)(151.6,-1.053)(153.2,-1.073)(154.9,-1.063)(156.1,-1.053)(157.7,-1.112)(158.9,-1.043)(160.5,-1.053)(161.7,-1.004)(162.9,-1.043)(164.6,-1.004)(166.2,-0.984)(167.4,-0.994)(168.6,-1.033)(169.8,-1.004)(171.0,-1.004)};
\addplot[black] coordinates {(0.8,-0.916)(1.8,-0.955)(3.0,-1.014)(4.2,-1.043)(5.4,-1.063)(6.6,-1.053)(7.9,-1.029)(9.1,-1.033)(10.3,-1.024)(11.9,-1.004)(13.5,-0.998)(15.1,-0.994)(16.0,-1.043)(17.2,-1.092)(18.8,-1.155)(20.0,-1.112)(21.2,-1.073)(22.4,-1.112)(23.6,-1.190)(25.3,-1.239)(26.9,-1.278)(28.9,-1.269)(30.5,-1.298)(32.1,-1.318)(33.4,-1.327)(35.4,-1.376)(36.6,-1.376)(37.8,-1.347)(39.0,-1.327)(40.5,-1.308)(41.9,-1.337)(43.5,-1.363)(45.1,-1.327)(46.7,-1.288)(48.3,-1.269)(49.6,-1.259)(50.8,-1.249)(52.0,-1.220)(53.2,-1.171)(54.4,-1.131)(55.2,-1.092)(56.9,-1.073)(58.1,-1.033)(59.3,-1.024)(60.5,-0.994)(61.7,-0.945)(62.9,-0.920)(64.1,-0.931)(65.4,-0.896)(66.6,-0.886)(67.8,-0.867)(69.0,-0.827)(70.2,-0.808)(71.4,-0.759)(72.6,-0.710)(73.9,-0.671)(75.5,-0.641)(77.1,-0.631)(78.7,-0.631)(80.7,-0.612)(81.9,-0.641)(83.6,-0.641)(85.2,-0.622)(87.0,-0.573)(88.4,-0.602)(90.1,-0.612)(91.7,-0.631)(93.3,-0.661)(94.9,-0.696)(96.1,-0.676)(97.7,-0.671)(99.4,-0.690)(100.6,-0.729)(101.8,-0.778)(103.0,-0.847)(103.8,-0.916)(105.0,-0.925)(106.3,-0.906)(107.1,-0.876)(107.7,-0.818)(109.1,-0.837)(110.3,-0.841)(111.1,-0.896)(112.3,-1.014)(113.5,-1.102)(114.8,-1.161)(116.0,-1.151)(117.2,-1.161)(118.0,-1.127)(119.2,-1.141)(120.7,-1.116)(121.7,-1.151)(122.9,-1.200)(123.7,-1.259)(124.9,-1.308)(126.1,-1.357)(127.3,-1.342)(128.5,-1.308)(129.7,-1.259)(131.4,-1.259)(132.6,-1.278)(133.8,-1.269)(135.8,-1.298)(137.8,-1.278)(140.3,-1.259)(141.9,-1.269)(143.5,-1.278)(145.1,-1.259)(146.8,-1.220)(148.8,-1.200)(150.0,-1.161)(151.2,-1.127)(153.2,-1.112)(154.9,-1.122)(156.5,-1.082)(158.5,-1.053)(160.1,-1.033)(161.3,-1.014)(162.9,-1.014)(164.7,-0.971)(166.2,-0.984)(167.8,-1.004)(169.4,-1.049)(171.0,-1.049)(172.7,-1.004)(174.3,-1.024)(175.9,-1.010)(177.1,-1.033)(177.9,-1.112)(178.7,-1.161)(179.8,-1.092)(180.8,-1.033)(181.7,-1.063)(182.8,-1.049)(183.6,-1.024)(184.4,-1.063)(185.6,-1.024)(186.8,-1.131)(188.9,-1.151)(190.5,-1.092)};
\addplot[rblue] coordinates {(0.8,-1.043)(1.8,-1.043)(3.4,-1.049)(5.0,-1.063)(6.6,-1.049)(8.3,-1.043)(9.9,-1.029)(11.5,-1.014)(13.1,-1.014)(14.7,-1.018)(16.4,-1.024)(18.0,-1.018)(18.8,-1.053)(20.0,-1.033)(21.2,-1.073)(22.4,-1.063)(23.6,-1.082)(25.3,-1.082)(26.5,-1.088)(27.7,-1.088)(28.9,-1.063)(30.1,-1.082)(31.7,-1.102)(33.4,-1.131)(35.4,-1.190)(37.4,-1.194)(38.6,-1.180)(39.9,-1.171)(41.5,-1.200)(43.1,-1.225)(44.7,-1.229)(46.3,-1.239)(47.9,-1.239)(49.6,-1.229)(50.8,-1.225)(52.0,-1.214)(53.2,-1.239)(54.0,-1.253)(55.2,-1.245)(56.9,-1.220)(58.5,-1.200)(59.7,-1.171)(60.9,-1.161)(62.1,-1.141)(63.3,-1.122)(65.0,-1.112)(66.2,-1.092)(67.4,-1.076)(68.6,-1.053)(69.8,-1.043)(71.0,-1.024)(72.2,-1.014)(73.1,-1.024)(74.3,-0.994)(75.5,-0.984)(76.7,-0.965)(77.9,-0.955)(79.1,-0.925)(80.3,-0.906)(81.6,-0.886)(82.8,-0.916)(84.4,-0.906)(86.0,-0.892)(87.6,-0.876)(89.2,-0.857)(90.5,-0.822)(91.7,-0.833)(93.3,-0.822)(94.5,-0.798)(95.7,-0.763)(96.9,-0.788)(98.6,-0.798)(100.2,-0.814)(101.8,-0.794)(103.0,-0.788)(104.6,-0.775)(106.3,-0.769)(107.9,-0.763)(109.5,-0.778)(111.1,-0.818)(112.7,-0.827)(114.0,-0.837)(115.2,-0.847)(116.8,-0.861)(118.4,-0.867)(119.6,-0.896)(120.8,-0.925)(122.0,-0.931)(123.3,-0.939)(124.5,-0.945)(125.3,-0.935)(126.3,-0.955)(127.3,-0.994)(128.5,-0.984)(129.7,-0.975)(130.6,-0.984)(131.8,-0.965)(133.0,-0.975)(133.8,-0.994)(135.0,-0.994)(136.2,-1.024)(137.4,-1.053)(138.7,-1.073)(140.3,-1.082)(141.9,-1.092)(143.1,-1.122)(143.9,-1.151)(145.5,-1.147)(147.2,-1.161)(148.4,-1.147)(150.0,-1.161)(151.6,-1.171)(153.2,-1.180)(154.9,-1.200)(155.8,-1.225)(156.9,-1.206)(158.5,-1.200)(160.1,-1.171)(161.3,-1.200)(162.9,-1.225)(164.6,-1.190)(166.2,-1.180)(167.8,-1.194)(169.0,-1.200)(170.2,-1.171)(171.9,-1.161)(173.1,-1.141)(174.3,-1.147)(175.9,-1.127)(177.1,-1.131)(178.7,-1.147)(180.4,-1.141)(181.6,-1.122)(182.8,-1.102)(184.0,-1.112)(185.6,-1.127)(187.2,-1.102)(188.9,-1.102)(190.5,-1.092)(192.1,-1.082)(193.7,-1.063)(195.3,-1.053)(197.0,-1.049)(198.6,-1.029)(200.2,-1.024)(201.8,-0.998)(203.0,-1.014)(204.6,-1.018)(206.0,-1.029)(208.0,-1.035)(210.0,-1.040)};
\addplot[rgreen] coordinates {(0.8,-0.906)(1.8,-0.945)(3.0,-1.014)(4.2,-1.053)(5.4,-1.014)(6.6,-0.955)(7.9,-0.892)(9.1,-0.935)(10.7,-0.945)(11.9,-0.965)(13.1,-0.994)(14.7,-0.975)(15.9,-0.955)(17.6,-0.925)(18.8,-0.931)(20.0,-0.955)(21.2,-0.994)(22.4,-1.014)(23.6,-0.994)(24.9,-1.010)(26.1,-1.010)(27.7,-0.998)(28.9,-1.014)(30.5,-0.994)(31.7,-0.980)(32.9,-1.033)(34.6,-1.082)(35.8,-1.131)(37.0,-1.151)(38.2,-1.147)(39.4,-1.167)(40.6,-1.190)(41.9,-1.229)(43.5,-1.259)(45.1,-1.284)(46.7,-1.269)(48.3,-1.220)(49.6,-1.252)(50.8,-1.269)(52.0,-1.239)(53.2,-1.273)(54.4,-1.249)(56.0,-1.220)(57.7,-1.180)(58.9,-1.131)(60.1,-1.116)(61.3,-1.102)(62.5,-1.063)(63.7,-1.049)(65.0,-1.033)(66.2,-1.004)(67.4,-0.984)(68.6,-0.965)(69.8,-0.975)(71.0,-0.945)(72.2,-0.931)(73.5,-0.916)(74.7,-0.906)(75.9,-0.876)(77.1,-0.818)(78.3,-0.798)(79.5,-0.798)(80.7,-0.818)(82.0,-0.814)(82.8,-0.749)(84.0,-0.743)(85.2,-0.724)(86.8,-0.759)(88.0,-0.759)(89.2,-0.743)(91.7,-0.743)(92.9,-0.794)(94.5,-0.798)(95.7,-0.814)(97.3,-0.814)(98.6,-0.798)(99.8,-0.788)(101.0,-0.798)(102.2,-0.818)(103.8,-0.837)(105.4,-0.822)(107.1,-0.798)(108.7,-0.798)(109.9,-0.822)(111.1,-0.847)(112.3,-1.014)(113.5,-0.984)(114.8,-1.010)(116.0,-1.014)(117.6,-1.014)(118.8,-1.043)(119.9,-1.161)(120.8,-1.167)(122.4,-1.167)(124.1,-1.167)(125.7,-1.171)(127.3,-1.171)(128.5,-1.180)(129.7,-1.239)(131.0,-1.245)(132.2,-1.229)(133.4,-1.214)(134.6,-1.214)(135.8,-1.200)(137.0,-1.151)(138.3,-1.112)(139.5,-1.088)(140.7,-1.082)(141.9,-1.063)(143.1,-1.049)(144.3,-1.037)(145.9,-1.018)(147.6,-0.998)(149.2,-0.998)(150.8,-0.984)(152.0,-0.984)(153.2,-0.998)(154.9,-0.971)(156.1,-0.975)(157.3,-0.994)(158.5,-0.998)(159.7,-0.984)(160.9,-0.998)(162.1,-0.990)(163.8,-0.998)(165.4,-0.998)(166.6,-1.010)(167.8,-1.004)(169.0,-1.043)(170.2,-0.998)(171.9,-1.004)(174.3,-0.998)(176.7,-0.998)(177.9,-1.010)(179.1,-1.024)(180.8,-1.018)(182.4,-1.018)(184.0,-1.033)(185.2,-1.004)(186.4,-1.004)(188.1,-1.018)(189.7,-1.033)(191.3,-1.049)(192.5,-1.049)(193.7,-1.024)(194.9,-1.049)(195.7,-1.082)(196.6,-1.073)};
\addplot[rcyan] coordinates {(0.8,-1.043)(1.4,-1.190)(1.9,-1.318)(3.0,-1.190)(3.8,-1.092)(5.0,-0.925)(5.8,-0.975)(7.0,-1.112)(8.1,-1.171)(9.1,-1.190)(9.9,-1.112)(11.1,-1.131)(11.9,-1.210)(13.1,-1.190)(14.3,-1.171)(15.1,-1.122)(15.9,-1.108)(17.2,-1.171)(18.4,-1.220)(19.6,-1.249)(20.8,-1.269)(22.0,-1.308)(23.2,-1.278)(24.5,-1.265)(25.7,-1.288)(26.9,-1.422)(28.5,-1.435)(30.1,-1.396)(31.7,-1.367)(33.4,-1.318)(34.6,-1.318)(35.8,-1.327)(37.0,-1.376)(38.1,-1.406)(39.0,-1.337)(40.2,-1.298)(42.2,-1.269)(43.9,-1.253)(45.1,-1.259)(46.3,-1.269)(47.9,-1.259)(49.1,-1.288)(50.4,-1.308)(52.0,-1.288)(53.2,-1.288)(54.0,-1.298)(55.2,-1.190)(56.5,-1.131)(57.7,-1.102)(59.3,-1.092)(60.5,-1.063)(61.7,-1.043)(62.9,-0.994)(64.1,-0.916)(65.4,-0.876)(66.6,-0.808)(67.8,-0.788)(69.0,-0.798)(70.2,-0.808)(71.4,-0.739)(72.6,-0.680)(73.9,-0.651)(75.1,-0.641)(76.3,-0.622)(77.5,-0.582)(78.7,-0.582)(79.9,-0.602)(80.7,-0.573)(82.0,-0.563)(83.2,-0.563)(84.4,-0.524)(85.0,-0.484)(86.0,-0.520)(87.6,-0.543)(89.2,-0.563)(90.9,-0.563)(92.5,-0.602)(94.1,-0.622)(94.9,-0.661)(95.7,-0.710)(96.9,-0.690)(98.2,-0.680)(99.4,-0.710)(100.6,-0.671)(101.8,-0.710)(103.0,-0.749)(104.2,-0.798)(105.4,-0.808)(106.7,-0.775)(107.7,-0.827)(109.1,-0.886)(110.3,-0.935)(111.5,-0.984)(112.7,-1.043)(113.9,-1.092)(115.2,-1.131)(116.0,-1.200)(116.8,-1.318)(118.0,-1.327)(119.2,-1.347)(120.8,-1.347)(122.0,-1.337)(122.8,-1.308)(124.1,-1.376)(125.3,-1.425)(126.9,-1.465)(128.1,-1.425)(129.7,-1.376)(131.0,-1.396)(132.2,-1.425)(133.0,-1.449)(134.2,-1.416)(135.4,-1.406)(136.6,-1.376)(137.8,-1.347)(139.1,-1.278)(140.3,-1.308)(141.5,-1.318)(142.7,-1.288)(144.3,-1.210)(145.9,-1.200)(147.6,-1.200)(148.8,-1.180)(150.0,-1.180)(151.2,-1.210)(152.4,-1.180)(153.6,-1.092)(154.9,-1.043)(156.1,-1.063)(157.3,-1.092)(158.5,-1.082)(159.7,-1.049)(160.9,-1.029)(162.0,-1.082)(163.4,-1.151)(164.6,-1.112)(165.8,-1.037)(167.0,-1.161)(168.2,-1.112)(169.4,-1.082)(170.6,-1.180)(171.9,-1.180)(173.1,-1.151)(174.3,-1.141)(175.1,-1.082)(175.9,-1.151)(176.9,-1.210)(177.9,-1.200)(178.7,-1.018)(179.9,-1.092)(181.2,-1.102)(182.4,-1.063)(183.6,-1.053)(184.8,-1.082)(186.0,-1.102)(186.8,-1.063)(187.6,-1.073)};
\end{axis}
\node[font=\bfseries\fontsize{10.3}{12}\selectfont] at (267.5pt,182.5pt) {Circle Left (CL) Z-plot};
\node[font=\fontsize{8.65}{10}\selectfont] at (267.5pt,6pt) {Time};
\node[font=\fontsize{8.65}{10}\selectfont, rotate=90] at (8.5pt,102pt) {Acceleration};
\end{tikzpicture}
\end{document}
